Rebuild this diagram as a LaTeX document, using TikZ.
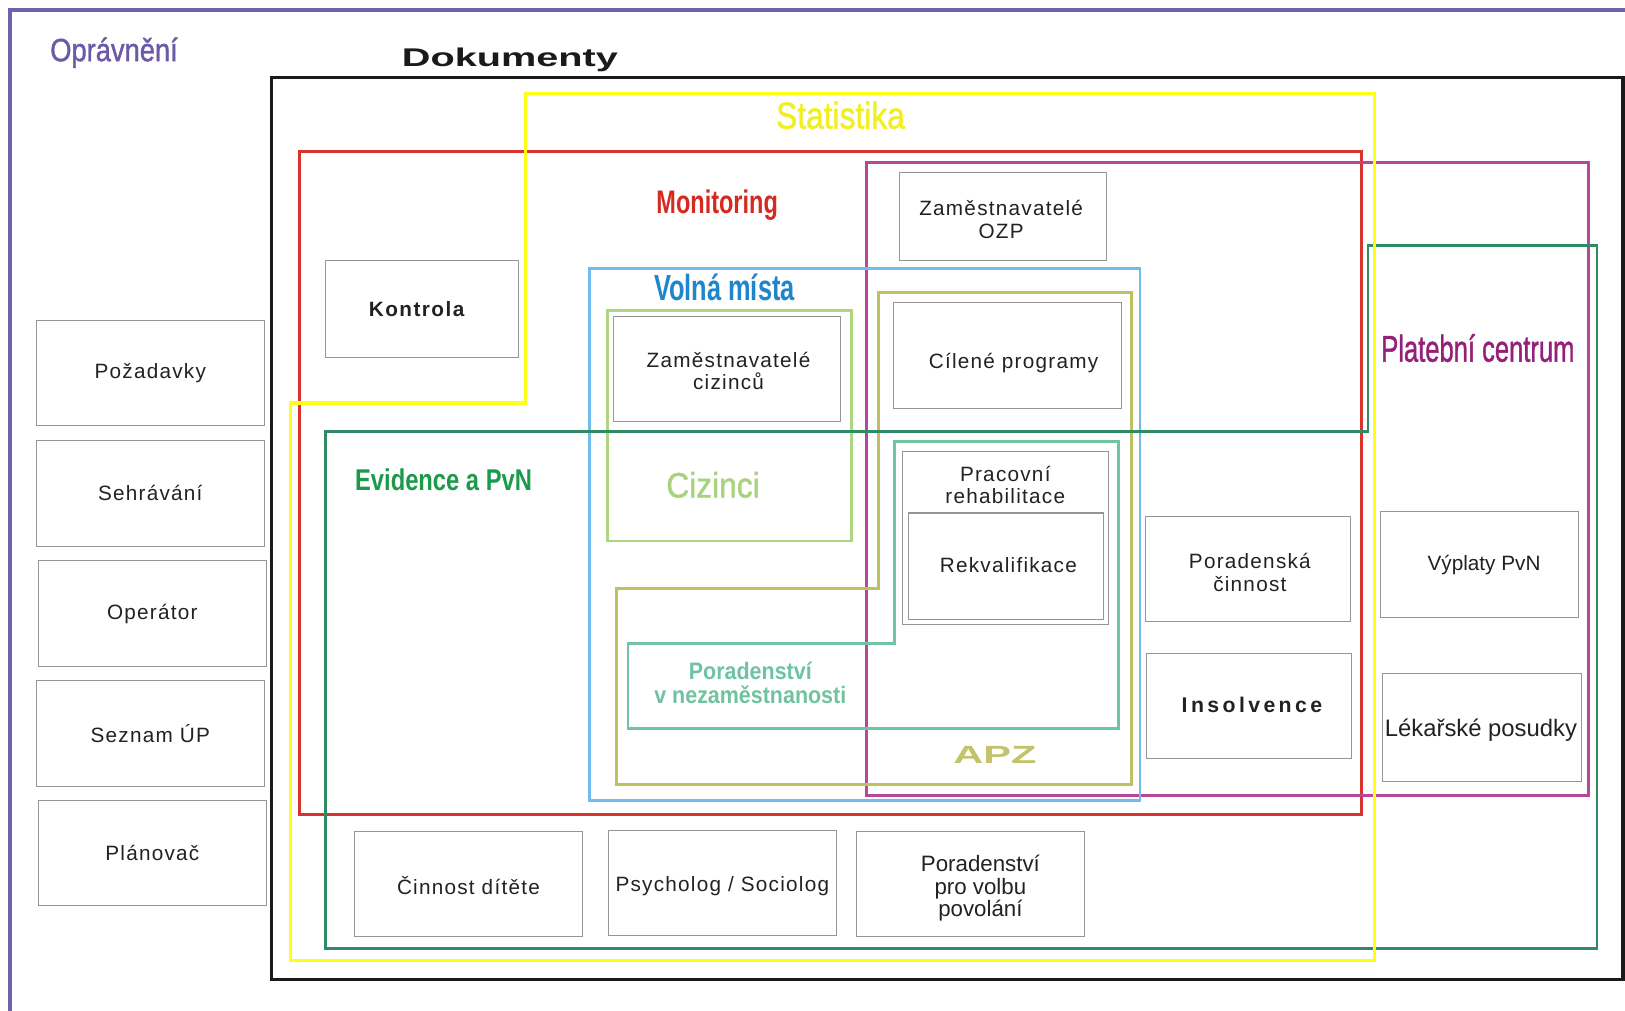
\documentclass[tikz,border=0pt]{standalone}
\usepackage{fontspec}
\usepackage{graphicx}
\setmainfont{Liberation Sans}
\newfontfamily\boxfont[LetterSpace=6]{Liberation Sans}
\newfontfamily\plainfont{Liberation Sans}
\newfontfamily\titlefont[FakeBold=1.3]{Liberation Sans}
\newfontfamily\spacedfont[LetterSpace=7]{Liberation Sans}
\newfontfamily\widespacedfont[LetterSpace=16]{Liberation Sans}
\newcommand\hsq[2]{\scalebox{#1}[1]{#2}}
\definecolor{boxgray}{HTML}{959595}
\definecolor{txtgray}{HTML}{222222}
\definecolor{cPurple}{HTML}{7261AA}
\definecolor{cPurpleT}{HTML}{6B5AA5}
\definecolor{cBlack}{HTML}{1A1A1A}
\definecolor{cYellow}{HTML}{FFFF14}
\definecolor{cYellowT}{HTML}{F0F020}
\definecolor{cRed}{HTML}{D9342B}
\definecolor{cRedT}{HTML}{D42A1F}
\definecolor{cMag}{HTML}{B8479A}
\definecolor{cMagT}{HTML}{94207A}
\definecolor{cGreen}{HTML}{2E8B62}
\definecolor{cGreenT}{HTML}{1B9A4C}
\definecolor{cBlue}{HTML}{72BCEC}
\definecolor{cBlueT}{HTML}{1F86CB}
\definecolor{cLGreen}{HTML}{AED57F}
\definecolor{cLGreenT}{HTML}{A9D27F}
\definecolor{cOlive}{HTML}{BFC060}
\definecolor{cOliveT}{HTML}{C3C36B}
\definecolor{cTeal}{HTML}{70C4A4}
\definecolor{cTealT}{HTML}{6FC3A2}
\begin{document}
\begin{tikzpicture}[x=1pt,y=-1pt,
  gbox/.style={draw=boxgray, line width=1pt, fill=white, inner sep=0pt, align=center,
    font=\boxfont\fontsize{20}{22}\selectfont, text=txtgray},
  btext/.style={inner sep=0pt, align=center, font=\boxfont\fontsize{20}{22}\selectfont, text=txtgray},
  frame/.style={line width=2.8pt, line join=miter},
  ttl/.style={inner sep=0pt, anchor=base}]
\useasboundingbox (0,0) rectangle (1568,975);
\fill[white] (0,0) rectangle (1568,975);

% region frames
\draw[frame, draw=cBlack, line width=3pt] (262,75) rectangle (1566,945);
\draw[frame, draw=cRed] (289,146) rectangle (1314,786);
\draw[frame, draw=cMag] (836,157) rectangle (1533,768);
\draw[frame, draw=cBlue] (569,259) rectangle (1100,772);
\draw[frame, draw=cLGreen] (586,300) rectangle (822,522);
\draw[frame, draw=cOlive] (848,282) -- (1092,282) -- (1092,757) -- (595,757) -- (595,568) -- (848,568) -- cycle;
\draw[frame, draw=cTeal] (863,426) -- (1079,426) -- (1079,703) -- (606,703) -- (606,621) -- (863,621) -- cycle;
\draw[frame, draw=cGreen] (314,416) -- (1320,416) -- (1320,237) -- (1541,237) -- (1541,915) -- (314,915) -- cycle;
\draw[frame, draw=cYellow, line width=3.2pt] (507,90) -- (1326,90) -- (1326,927) -- (280,927) -- (280,389) -- (507,389) -- cycle;
\draw[draw=cPurple, line width=4pt] (1590,10) -- (10,10) -- (10,995);

% region titles
\node[ttl, text=cPurpleT] (tOpr) at (110,59) {\hsq{0.85}{\titlefont\fontsize{31}{31}\selectfont Oprávnění}};
\node[ttl, text=cBlack] (tDok) at (492,64) {\hsq{1.55}{\fontsize{24.7}{25}\selectfont\bfseries Dokumenty}};
\node[ttl, text=cYellowT] (tStat) at (811,124) {\hsq{0.85}{\titlefont\fontsize{36}{36}\selectfont Statistika}};
\node[ttl, text=cRedT] (tMon) at (692,206) {\hsq{0.72}{\fontsize{31.5}{32}\selectfont\bfseries Monitoring}};
\node[ttl, text=cBlueT] (tVol) at (699,290) {\hsq{0.70}{\fontsize{35}{35}\selectfont\bfseries Volná místa}};
\node[ttl, text=cMagT] (tPlat) at (1426,349) {\hsq{0.685}{\titlefont\fontsize{36}{36}\selectfont Platební centrum}};
\node[ttl, text=cGreenT] (tEvid) at (428,473) {\hsq{0.79}{\fontsize{29}{29}\selectfont\bfseries Evidence a PvN}};
\node[ttl, text=cLGreenT] (tCiz) at (688,480) {\hsq{0.9}{\titlefont\fontsize{34}{34}\selectfont Cizinci}};
\node[ttl, text=cOliveT] (tApz) at (960,737) {\hsq{1.67}{\fontsize{24}{24}\selectfont\bfseries APZ}};
\node[inner sep=0pt, text=cTealT] (tPor) at (724,662) {\hsq{0.9}{\fontsize{23}{22}\selectfont\bfseries
  \begin{tabular}{@{}c@{}}Poradenství\\v nezaměstnanosti\end{tabular}}};

% left column
\node[gbox, minimum width=220pt, minimum height=102pt] (pozad) at (145,360) {Požadavky};
\node[gbox, minimum width=220pt, minimum height=102pt] (sehr) at (145,476) {Sehrávání};
\node[gbox, minimum width=220pt, minimum height=102pt] (oper) at (147,592) {Operátor};
\node[gbox, minimum width=220pt, minimum height=102pt] (seznam) at (145,708) {Seznam ÚP};
\node[gbox, minimum width=220pt, minimum height=102pt] (planov) at (147,823) {Plánovač};

% inner boxes
\node[gbox, minimum width=186pt, minimum height=94pt] (kontr) at (407,298) {};
\node[btext, font=\spacedfont\bfseries\fontsize{20}{22}\selectfont] (kontrT) at (402,298) {Kontrola};
\node[gbox, minimum width=200pt, minimum height=85pt] (ozp) at (968,208.5) {};
\node[btext] (ozpT) at (966,212) {Zaměstnavatelé\\OZP};
\node[gbox, minimum width=219pt, minimum height=102pt] (zciz) at (701.5,356) {};
\node[btext] (zcizT) at (703,358) {Zaměstnavatelé\\cizinců};
\node[gbox, minimum width=220pt, minimum height=102pt] (cil) at (972,343) {};
\node[btext] (cilT) at (978,350) {Cílené programy};
\node[gbox, minimum width=199pt, minimum height=167pt] (prac) at (970.5,519.5) {};
\node[btext] (pracT) at (970,468) {Pracovní\\rehabilitace};
\node[gbox, minimum width=188pt, minimum height=103pt] (rekv) at (971,546.5) {};
\node[btext] (rekvT) at (973,545) {Rekvalifikace};
\node[gbox, minimum width=198pt, minimum height=102pt] (porc) at (1204,549) {};
\node[btext] (porcT) at (1206,552) {Poradenská\\činnost};
\node[gbox, minimum width=198pt, minimum height=101pt] (insol) at (1205,681.5) {};
\node[btext, font=\widespacedfont\bfseries\fontsize{20.5}{22}\selectfont] (insolT) at (1208,680) {Insolvence};
\node[gbox, minimum width=191pt, minimum height=102pt] (vypl) at (1427.5,545) {};
\node[btext, font=\plainfont\fontsize{20}{22}\selectfont] (vyplT) at (1432,545) {Výplaty PvN};
\node[gbox, minimum width=192pt, minimum height=104pt] (lek) at (1430,702) {};
\node[btext, font=\plainfont\fontsize{23}{24}\selectfont] (lekT) at (1429,705) {Lékařské posudky};
\node[gbox, minimum width=220pt, minimum height=102pt] (cinn) at (452,853) {};
\node[btext] (cinnT) at (452,854) {Činnost dítěte};
\node[gbox, minimum width=220pt, minimum height=102pt] (psych) at (697,852) {};
\node[btext] (psychT) at (697,855) {Psycholog / Sociolog};
\node[gbox, minimum width=220pt, minimum height=102pt] (porv) at (936,853) {};
\node[btext, font=\plainfont\fontsize{21.5}{22}\selectfont] (porvT) at (946,857) {Poradenství\\pro volbu\\povolání};
\end{tikzpicture}
\end{document}
